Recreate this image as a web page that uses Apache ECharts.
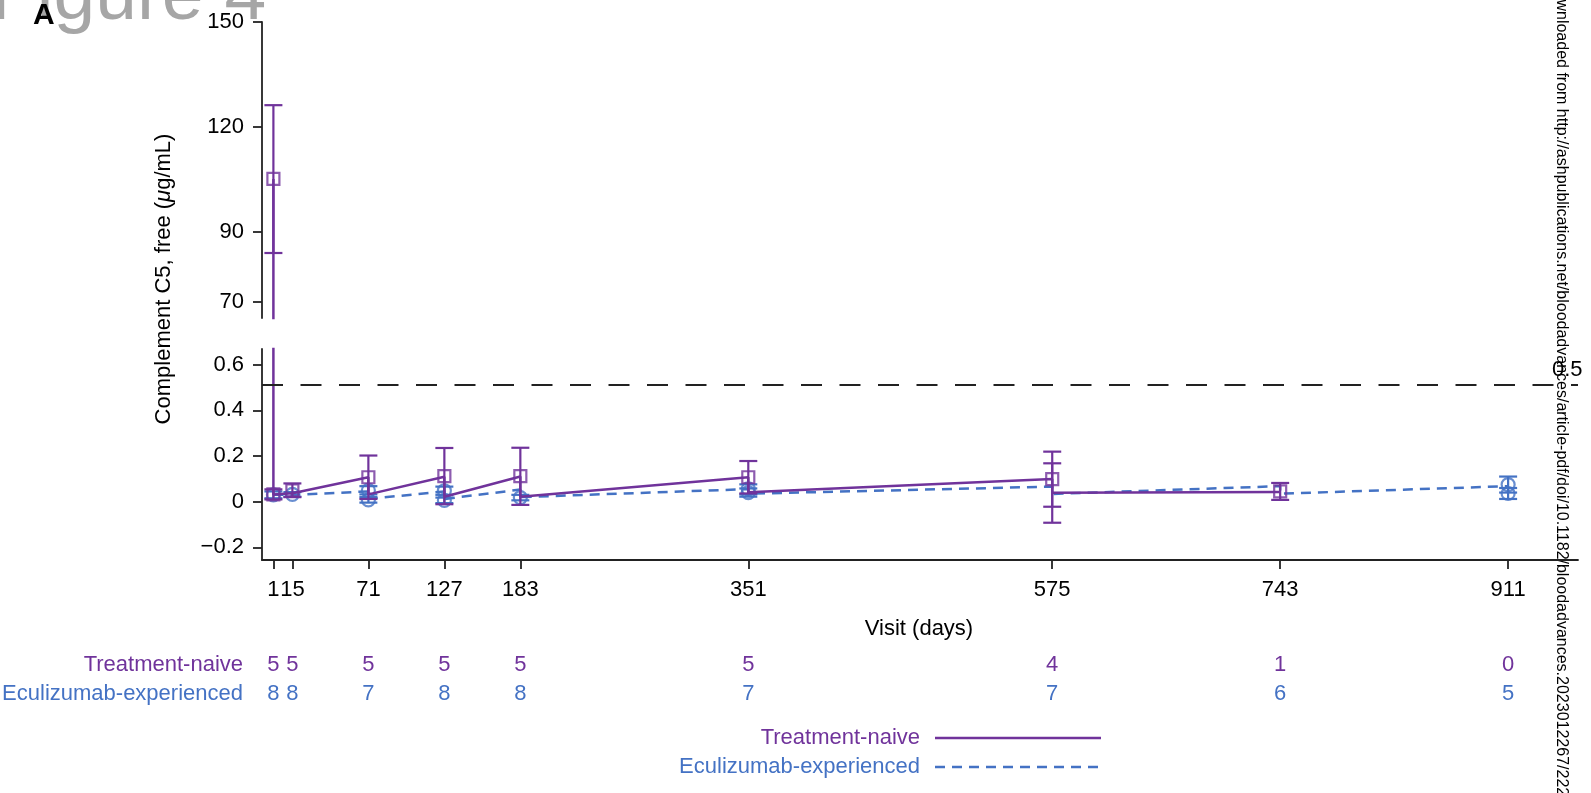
<!DOCTYPE html>
<html>
<head>
<meta charset="utf-8">
<title>Complement C5, free</title>
<script src="https://cdn.jsdelivr.net/npm/echarts@6/dist/echarts.min.js"></script>
<style>
  html, body { margin: 0; padding: 0; background: #fff; }
  #chart { width: 1591px; height: 793px; }
</style>
</head>
<body>
<div id="chart"></div>
<script>
// visits (days) and patients at each visit
const visitDays = [1, 15, 71, 127, 183, 351, 575, 743, 911]
const naiveCount = [5, 5, 5, 5, 5, 5, 4, 1, 0]
const eculCount = [8, 8, 7, 8, 8, 7, 7, 6, 5]

// y ticks for the two panels of the broken axis
const upperTicks = [70, 90, 120, 150]
const lowerTicks = [-0.2, 0, 0.2, 0.4, 0.6]
const threshold = 0.51

// connecting lines (pre / post dose at each visit)
const naiveLineDays = [1, 1, 15, 71, 71, 127, 127, 183, 183, 351, 351, 575, 575, 743]
const naiveLineVals = [105.1, 0.032, 0.037, 0.107, 0.032, 0.109, 0.022, 0.11, 0.022, 0.107, 0.041, 0.099, 0.039, 0.043]
const eculLineDays = [1, 15, 71, 71, 127, 127, 183, 183, 351, 351, 575, 575, 743, 743, 911]
const eculLineVals = [0.03, 0.03, 0.045, 0.012, 0.045, 0.012, 0.053, 0.02, 0.055, 0.035, 0.066, 0.034, 0.068, 0.035, 0.068]

// markers (means)
const naiveMarkDays = [1, 1, 15, 71, 127, 183, 351, 575, 743]
const naiveMarkVals = [105.1, 0.032, 0.05, 0.107, 0.112, 0.112, 0.107, 0.099, 0.045]
const eculMarkDays = [1, 15, 71, 71, 127, 127, 183, 351, 351, 911, 911]
const eculMarkVals = [0.03, 0.032, 0.05, 0.008, 0.048, 0.006, 0.018, 0.056, 0.04, 0.075, 0.036]

// error bars
const naiveBarDays = [1, 1, 15, 71, 127, 183, 351, 575, 575, 743]
const naiveBarLow = [83.9, 0.01, 0.02, 0.012, -0.011, -0.014, 0.036, -0.022, -0.092, 0.008]
const naiveBarHigh = [126.2, 0.054, 0.08, 0.202, 0.235, 0.236, 0.178, 0.219, 0.168, 0.082]
const eculBarDays = [1, 15, 71, 71, 127, 127, 183, 351, 351, 911, 911]
const eculBarLow = [0.015, 0.022, 0.032, -0.004, 0.03, -0.006, 0.006, 0.032, 0.022, 0.04, 0.012]
const eculBarHigh = [0.045, 0.042, 0.068, 0.02, 0.066, 0.018, 0.03, 0.076, 0.058, 0.11, 0.06]

const purple = '#70339b'
const blue = '#4472c4'
const font = '"Liberation Sans", Arial, sans-serif'

const chart = echarts.init(document.getElementById('chart'))

const zip = (xs, ys) => xs.map((x, i) => [x, ys[i]])
const bars = (xs, lo, hi) => xs.map((x, i) => [x, lo[i], hi[i]])

function barItem (color) {
  return function (params, api) {
    const x = api.value(0)
    const lo = api.coord([x, api.value(1)])
    const hi = api.coord([x, api.value(2)])
    const half = 9
    const style = { stroke: color, lineWidth: 2.2, fill: null }
    return {
      type: 'group',
      children: [
        { type: 'line', shape: { x1: lo[0], y1: lo[1], x2: hi[0], y2: hi[1] }, style },
        { type: 'line', shape: { x1: lo[0] - half, y1: lo[1], x2: lo[0] + half, y2: lo[1] }, style },
        { type: 'line', shape: { x1: hi[0] - half, y1: hi[1], x2: hi[0] + half, y2: hi[1] }, style }
      ]
    }
  }
}

const axisLine = { show: true, onZero: false, lineStyle: { color: '#222', width: 1.8 } }
const axisTick = { show: true, length: 9, lineStyle: { color: '#222', width: 1.8 } }
const labelStyle = { color: '#000', fontSize: 22, fontFamily: font }
const fmt = v => (v < 0 ? '\u2212' + Math.abs(v) : String(v))

const naiveBarData = bars(naiveBarDays, naiveBarLow, naiveBarHigh)
const eculBarData = bars(eculBarDays, eculBarLow, eculBarHigh)

const option = {
  animation: false,
  grid: [
    { left: 262, top: 22, width: 1316, height: 296 },
    { left: 262, top: 349, width: 1316, height: 211 }
  ],
  xAxis: [
    { gridIndex: 0, type: 'value', min: -7.4, max: 962.5, show: false },
    {
      gridIndex: 1, type: 'value', min: -7.4, max: 962.5,
      axisLine: axisLine,
      axisTick: Object.assign({ customValues: visitDays }, axisTick),
      axisLabel: Object.assign({ customValues: visitDays, margin: 19, hideOverlap: false }, labelStyle),
      splitLine: { show: false }
    }
  ],
  yAxis: [
    {
      gridIndex: 0, type: 'value', min: 65.3, max: 150,
      axisLine: axisLine,
      axisTick: Object.assign({ customValues: upperTicks }, axisTick),
      axisLabel: Object.assign({ customValues: upperTicks, margin: 18, formatter: fmt }, labelStyle),
      splitLine: { show: false }
    },
    {
      gridIndex: 1, type: 'value', min: -0.255, max: 0.668,
      axisLine: axisLine,
      axisTick: Object.assign({ customValues: lowerTicks }, axisTick),
      axisLabel: Object.assign({ customValues: lowerTicks, margin: 18, formatter: fmt }, labelStyle),
      splitLine: { show: false }
    }
  ],
  series: [
    {
      type: 'line', xAxisIndex: 1, yAxisIndex: 1, z: 2, silent: true,
      data: zip(eculLineDays, eculLineVals), showSymbol: false,
      lineStyle: { color: blue, width: 2.5, type: [10, 7] },
      markLine: {
        silent: true, symbol: 'none',
        lineStyle: { color: '#222', width: 2, type: [21, 17.5] },
        label: { show: false },
        data: [{ yAxis: threshold }]
      }
    },
    {
      type: 'custom', xAxisIndex: 1, yAxisIndex: 1, z: 2, silent: true, clip: true,
      renderItem: barItem(blue), encode: { x: 0, y: [1, 2] },
      data: eculBarData
    },
    {
      type: 'scatter', xAxisIndex: 1, yAxisIndex: 1, z: 2, silent: true,
      data: zip(eculMarkDays, eculMarkVals), symbol: 'circle', symbolSize: 13,
      itemStyle: { color: 'transparent', borderColor: blue, borderWidth: 2.2 }
    },
    {
      type: 'line', xAxisIndex: 0, yAxisIndex: 0, z: 3, silent: true,
      data: zip(naiveLineDays, naiveLineVals), showSymbol: false,
      lineStyle: { color: purple, width: 2.5 }
    },
    {
      type: 'line', xAxisIndex: 1, yAxisIndex: 1, z: 3, silent: true,
      data: zip(naiveLineDays, naiveLineVals), showSymbol: false,
      lineStyle: { color: purple, width: 2.5 }
    },
    {
      type: 'custom', xAxisIndex: 0, yAxisIndex: 0, z: 3, silent: true, clip: true,
      renderItem: barItem(purple), encode: { x: 0, y: [1, 2] },
      data: naiveBarData.filter(d => d[1] > 50)
    },
    {
      type: 'custom', xAxisIndex: 1, yAxisIndex: 1, z: 3, silent: true, clip: true,
      renderItem: barItem(purple), encode: { x: 0, y: [1, 2] },
      data: naiveBarData.filter(d => d[1] < 50)
    },
    {
      type: 'scatter', xAxisIndex: 0, yAxisIndex: 0, z: 3, silent: true,
      data: zip(naiveMarkDays, naiveMarkVals).filter(d => d[1] > 50), symbol: 'rect', symbolSize: 12,
      itemStyle: { color: 'transparent', borderColor: purple, borderWidth: 2.2 }
    },
    {
      type: 'scatter', xAxisIndex: 1, yAxisIndex: 1, z: 3, silent: true,
      data: zip(naiveMarkDays, naiveMarkVals).filter(d => d[1] < 50), symbol: 'rect', symbolSize: 12,
      itemStyle: { color: 'transparent', borderColor: purple, borderWidth: 2.2 }
    }
  ]
}

chart.setOption(option)

// texts around the plot: axis titles, at-risk table, legend, header
const txt = (x, y, text, extra) => ({
  type: 'text', x: x, y: y, silent: true,
  style: Object.assign({ text: text, fill: '#000', fontSize: 22, fontFamily: font, align: 'center', verticalAlign: 'middle' }, extra)
})

const refY = chart.convertToPixel({ yAxisIndex: 1 }, threshold)

const graphic = [
  txt(-9, -2, 'Figure 4', { fill: '#a6a6a6', fontSize: 75, align: 'left' }),
  txt(33, 16, 'A', { fontWeight: 'bold', fontSize: 30, align: 'left' }),
  {
    type: 'text', x: 164, y: 279, rotation: Math.PI / 2, silent: true,
    style: {
      text: 'Complement C5, free ({i|\u03bc}g/mL)', fill: '#000', fontSize: 22, fontFamily: font,
      align: 'center', verticalAlign: 'middle',
      rich: { i: { fontStyle: 'italic', fontSize: 22, fontFamily: font } }
    }
  },
  txt(1552, refY - 15, '0.5', { align: 'left' }),
  txt(919, 629, 'Visit (days)'),
  txt(243, 665, 'Treatment-naive', { fill: purple, align: 'right' }),
  txt(243, 694, 'Eculizumab-experienced', { fill: blue, align: 'right' }),
  txt(920, 738, 'Treatment-naive', { fill: purple, align: 'right' }),
  txt(920, 767, 'Eculizumab-experienced', { fill: blue, align: 'right' }),
  { type: 'line', silent: true, shape: { x1: 935, y1: 738, x2: 1101, y2: 738 }, style: { stroke: purple, lineWidth: 2.5 } },
  { type: 'line', silent: true, shape: { x1: 935, y1: 767, x2: 1101, y2: 767 }, style: { stroke: blue, lineWidth: 2.5, lineDash: [10, 7] } },
  {
    type: 'text', x: 1561, y: -21, rotation: -Math.PI / 2, silent: true,
    style: {
      text: 'Downloaded from http://ashpublications.net/bloodadvances/article-pdf/doi/10.1182/bloodadvances.2023012267/222',
      fill: '#000', fontSize: 16, fontFamily: font, align: 'left', verticalAlign: 'middle'
    }
  }
]

visitDays.forEach((d, i) => {
  const x = chart.convertToPixel({ xAxisIndex: 1 }, d)
  graphic.push(txt(x, 665, String(naiveCount[i]), { fill: purple }))
  graphic.push(txt(x, 694, String(eculCount[i]), { fill: blue }))
})

chart.setOption({ graphic: graphic })
</script>
</body>
</html>
